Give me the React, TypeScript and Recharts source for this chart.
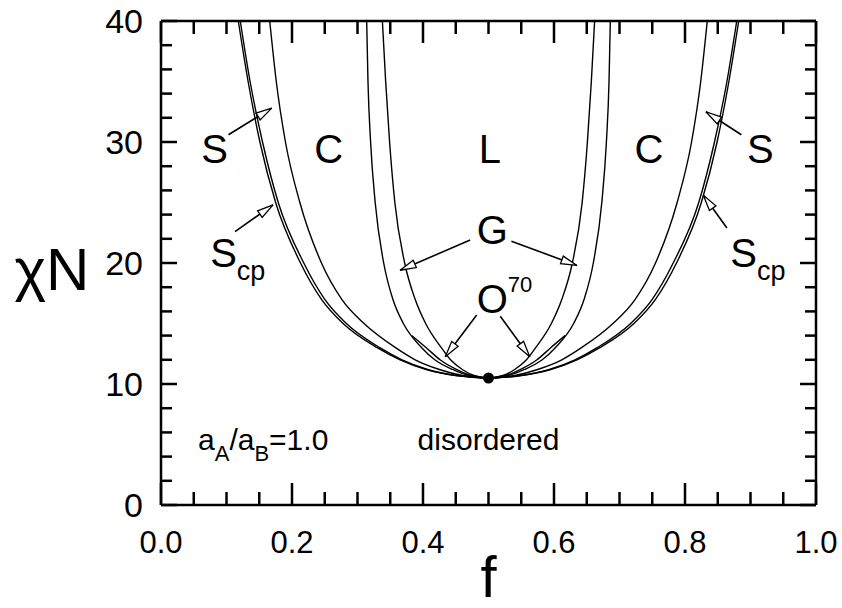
import { ComposedChart, Line, Scatter, XAxis, YAxis, ReferenceDot, ReferenceLine } from 'recharts';

const FONT = '"Liberation Sans", Arial, Helvetica, sans-serif';

// chiN levels at which the boundaries were read, top to bottom
const chiLevels = [40, 35, 30, 25, 20, 17, 15, 13, 12, 11.2, 10.7];
const critical = { f: 0.5, chiN: 10.495 };

// f on the left / right branch of each boundary, one value per chiLevel
const odtLeft = [0.118, 0.133, 0.151, 0.175, 0.213, 0.245, 0.278, 0.330, 0.365, 0.405, 0.450];
const odtRight = [0.882, 0.867, 0.849, 0.825, 0.787, 0.755, 0.722, 0.670, 0.635, 0.595, 0.550];
const scpLeft = [0.121, 0.136, 0.155, 0.179, 0.218, 0.250, 0.283, 0.334, 0.368, 0.407, 0.451];
const scpRight = [0.879, 0.864, 0.845, 0.821, 0.782, 0.750, 0.717, 0.666, 0.632, 0.593, 0.549];
const sphCylLeft = [0.166, 0.176, 0.190, 0.212, 0.245, 0.276, 0.310, 0.358, 0.388, 0.425, 0.460];
const sphCylRight = [0.834, 0.824, 0.810, 0.788, 0.755, 0.724, 0.690, 0.642, 0.612, 0.575, 0.540];
const cylGyrLeft = [0.314, 0.316, 0.320, 0.327, 0.340, 0.354, 0.370, 0.398, 0.418, 0.445, 0.470];
const cylGyrRight = [0.686, 0.684, 0.680, 0.673, 0.660, 0.646, 0.630, 0.602, 0.582, 0.555, 0.530];
const gyrLamLeft = [0.338, 0.343, 0.349, 0.357, 0.372, 0.388, 0.404, 0.428, 0.442, 0.460, 0.478];
const gyrLamRight = [0.662, 0.657, 0.651, 0.643, 0.628, 0.612, 0.596, 0.572, 0.558, 0.540, 0.522];

// O70 window, only near the bottom
const o70Levels = [14, 13, 12, 11.2, 10.7];
const o70Left = [0.383, 0.405, 0.426, 0.451, 0.473];
const o70Right = [0.617, 0.595, 0.574, 0.549, 0.527];

const xTicks = [0, 0.05, 0.1, 0.15, 0.2, 0.25, 0.3, 0.35, 0.4, 0.45, 0.5, 0.55, 0.6, 0.65, 0.7, 0.75, 0.8, 0.85, 0.9, 0.95, 1];
const yTicks = [0, 2, 4, 6, 8, 10, 12, 14, 16, 18, 20, 22, 24, 26, 28, 30, 32, 34, 36, 38, 40];

// region labels: text, f, chiN (centre)
const regionLabels = [
  { text: 'S', f: 0.082, chiN: 29.5 },
  { text: 'C', f: 0.256, chiN: 29.5 },
  { text: 'L', f: 0.502, chiN: 29.5 },
  { text: 'C', f: 0.745, chiN: 29.5 },
  { text: 'S', f: 0.915, chiN: 29.5 },
  { text: 'G', f: 0.506, chiN: 22.8 },
];

// arrows: from (f, chiN) to tip (f, chiN)
const arrows = [
  { f1: 0.103, c1: 30.6, f2: 0.169, c2: 32.8 },
  { f1: 0.886, c1: 30.6, f2: 0.832, c2: 32.5 },
  { f1: 0.113, c1: 22.6, f2: 0.171, c2: 24.8 },
  { f1: 0.864, c1: 22.9, f2: 0.828, c2: 25.6 },
  { f1: 0.472, c1: 21.9, f2: 0.365, c2: 19.4 },
  { f1: 0.535, c1: 21.8, f2: 0.635, c2: 19.8 },
  { f1: 0.482, c1: 15.7, f2: 0.434, c2: 12.26 },
  { f1: 0.518, c1: 15.6, f2: 0.563, c2: 12.26 },
];

const boundary = (left: number[], right: number[], levels: number[]) => [
  ...left.map((f, i) => ({ f, chiN: levels[i] })),
  critical,
  ...right.map((f, i) => ({ f, chiN: levels[i] })).reverse(),
];

const curves = [
  boundary(odtLeft, odtRight, chiLevels),
  boundary(scpLeft, scpRight, chiLevels),
  boundary(sphCylLeft, sphCylRight, chiLevels),
  boundary(cylGyrLeft, cylGyrRight, chiLevels),
  boundary(gyrLamLeft, gyrLamRight, chiLevels),
  boundary(o70Left, o70Right, o70Levels),
];

const isMajorX = (v: number) => Math.abs(v * 5 - Math.round(v * 5)) < 1e-6;
const isMajorY = (v: number) => v % 10 === 0;

function BottomTick(props: any) {
  const { x, y, payload } = props;
  const major = isMajorX(payload.value);
  return (
    <g>
      <line x1={x} y1={y} x2={x} y2={y - (major ? 22 : 13)} stroke="#000" strokeWidth={2.5} />
      {major && (
        <text x={x} y={y + 48} textAnchor="middle" fontSize={31} fontFamily={FONT} fill="#000">
          {payload.value.toFixed(1)}
        </text>
      )}
    </g>
  );
}

function TopTick(props: any) {
  const { x, y, payload } = props;
  const major = isMajorX(payload.value);
  return <line x1={x} y1={y} x2={x} y2={y + (major ? 22 : 13)} stroke="#000" strokeWidth={2.5} />;
}

function LeftTick(props: any) {
  const { x, y, payload } = props;
  const major = isMajorY(payload.value);
  return (
    <g>
      <line x1={x} y1={y} x2={x + (major ? 16 : 11)} y2={y} stroke="#000" strokeWidth={2.5} />
      {major && (
        <text x={x - 18} y={y + 12} textAnchor="end" fontSize={34} fontFamily={FONT} fill="#000">
          {payload.value}
        </text>
      )}
    </g>
  );
}

function RightTick(props: any) {
  const { x, y, payload } = props;
  const major = isMajorY(payload.value);
  return <line x1={x} y1={y} x2={x - (major ? 16 : 11)} y2={y} stroke="#000" strokeWidth={2.5} />;
}

function Arrow(props: any) {
  const { x1, y1, x2, y2 } = props;
  const a = Math.atan2(y2 - y1, x2 - x1);
  const len = 16;
  const w = 4;
  const bx = x2 - len * Math.cos(a);
  const by = y2 - len * Math.sin(a);
  const px = -Math.sin(a) * w;
  const py = Math.cos(a) * w;
  return (
    <g>
      <line x1={x1} y1={y1} x2={x2} y2={y2} stroke="#000" strokeWidth={1.6} />
      <polygon
        points={`${x2},${y2} ${bx + px},${by + py} ${bx - px},${by - py}`}
        fill="#fff"
        stroke="#000"
        strokeWidth={1.3}
      />
    </g>
  );
}

export default function App() {
  return (
    <div style={{ position: 'absolute', left: 0, top: 0, width: 842, height: 608, background: '#fff', fontFamily: FONT }}>
      <ComposedChart width={842} height={608} margin={{ top: 20, right: 25, bottom: 3, left: 101 }}>
        <XAxis
          dataKey="f"
          type="number"
          domain={[0, 1]}
          ticks={xTicks}
          interval={0}
          height={100}
          tickSize={0}
          tickMargin={0}
          tickLine={false}
          tick={<BottomTick />}
          axisLine={{ stroke: '#000', strokeWidth: 2.5 }}
          label={{ value: 'f', position: 'insideBottom', offset: 8, fontSize: 58, fill: '#000', fontFamily: FONT }}
        />
        <XAxis
          xAxisId="top"
          orientation="top"
          dataKey="f"
          type="number"
          domain={[0, 1]}
          ticks={xTicks}
          interval={0}
          height={1}
          tickSize={0}
          tickMargin={0}
          tickLine={false}
          tick={<TopTick />}
          axisLine={{ stroke: '#000', strokeWidth: 2.5 }}
        />
        <YAxis
          type="number"
          domain={[0, 40]}
          ticks={yTicks}
          interval={0}
          width={60}
          tickSize={0}
          tickMargin={0}
          tickLine={false}
          tick={<LeftTick />}
          axisLine={{ stroke: '#000', strokeWidth: 2.5 }}
          label={{
            content: (p: any) => {
              const vb = p.viewBox;
              return (
                <text x={vb.x - 49} y={vb.y + vb.height / 2 + 27} textAnchor="middle" fontSize={60} fontFamily={FONT} fill="#000">
                  χN
                </text>
              );
            },
          }}
        />
        <YAxis
          yAxisId="right"
          orientation="right"
          type="number"
          domain={[0, 40]}
          ticks={yTicks}
          interval={0}
          width={1}
          tickSize={0}
          tickMargin={0}
          tickLine={false}
          tick={<RightTick />}
          axisLine={{ stroke: '#000', strokeWidth: 2.5 }}
        />

        {/* invisible series so the mirror axes are drawn */}
        <Line
          xAxisId="top"
          yAxisId="right"
          data={[critical]}
          dataKey="chiN"
          stroke="none"
          dot={false}
          activeDot={false}
          legendType="none"
          isAnimationActive={false}
        />

        {curves.map((d, i) => (
          <Line
            key={i}
            data={d}
            dataKey="chiN"
            type="monotone"
            stroke="#000"
            strokeWidth={1.4}
            dot={false}
            activeDot={false}
            isAnimationActive={false}
          />
        ))}

        <Scatter
          data={[critical]}
          dataKey="chiN"
          isAnimationActive={false}
          shape={(p: any) => <circle cx={p.cx} cy={p.cy} r={5.5} fill="#000" />}
        />

        {arrows.map((a, i) => (
          <ReferenceLine
            key={`arr-${i}`}
            segment={[{ x: a.f1, y: a.c1 }, { x: a.f2, y: a.c2 }]}
            shape={(p: any) => <Arrow {...p} />}
          />
        ))}

        {regionLabels.map((r, i) => (
          <ReferenceDot
            key={`lab-${i}`}
            x={r.f}
            y={r.chiN}
            r={0}
            shape={(p: any) => (
              <text x={p.cx} y={p.cy + 14.5} textAnchor="middle" fontSize={40} fontFamily={FONT} fill="#000">
                {r.text}
              </text>
            )}
          />
        ))}

        {[0.075, 0.869].map((f, i) => (
          <ReferenceDot
            key={`scp-${i}`}
            x={f}
            y={19.7}
            r={0}
            shape={(p: any) => (
              <text x={p.cx} y={p.cy} fontSize={40} fontFamily={FONT} fill="#000">
                S
                <tspan fontSize={27} dy={13}>cp</tspan>
              </text>
            )}
          />
        ))}

        <ReferenceDot
          x={0.482}
          y={15.84}
          r={0}
          shape={(p: any) => (
            <text x={p.cx} y={p.cy} fontSize={40} fontFamily={FONT} fill="#000">
              O
              <tspan fontSize={22} dy={-21}>70</tspan>
            </text>
          )}
        />

        <ReferenceDot
          x={0.0565}
          y={4.55}
          r={0}
          shape={(p: any) => (
            <text x={p.cx} y={p.cy} fontSize={30} fontFamily={FONT} fill="#000">
              a<tspan fontSize={22} dy={11}>A</tspan>
              <tspan dy={-11}>/a</tspan>
              <tspan fontSize={22} dy={11}>B</tspan>
              <tspan dy={-11}>=1.0</tspan>
            </text>
          )}
        />

        <ReferenceDot
          x={0.5}
          y={4.55}
          r={0}
          shape={(p: any) => (
            <text x={p.cx} y={p.cy} textAnchor="middle" fontSize={30} fontFamily={FONT} fill="#000">
              disordered
            </text>
          )}
        />
      </ComposedChart>
    </div>
  );
}
